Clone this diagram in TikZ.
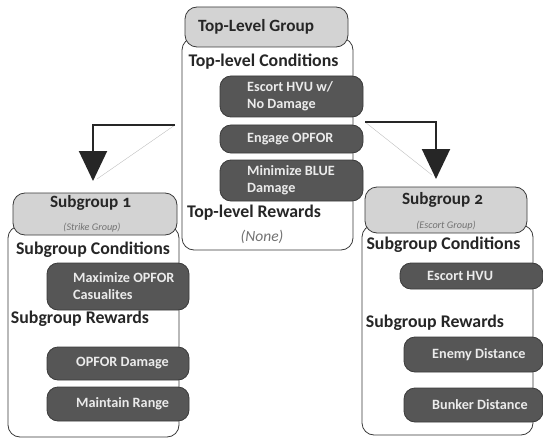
\documentclass[tikz,border=0pt]{standalone}
\usepackage{fontspec}
\setmainfont{Carlito}
\usetikzlibrary{arrows.meta}
\definecolor{darkfill}{HTML}{565656}
\definecolor{headfill}{HTML}{D3D3D3}
\definecolor{edge}{HTML}{3A3A3A}
\tikzset{
  mainbox/.style={draw=edge, fill=white, rounded corners=12pt, line width=0.8pt, inner sep=0pt},
  headbox/.style={draw=edge, fill=headfill, rounded corners=12pt, line width=0.8pt, inner sep=0pt},
  darkbox/.style={draw=edge, fill=darkfill, rounded corners=11pt, line width=0.8pt, inner sep=0pt},
  darktext/.style={anchor=west, text=white!92!black, align=left, inner sep=0pt, font=\bfseries\fontsize{14.2}{17}\selectfont},
  headtext/.style={inner sep=0pt, text=black!85, font=\bfseries\fontsize{17.2}{19}\selectfont},
  sectext/.style={inner sep=0pt, text=black!85, font=\bfseries\fontsize{17.8}{19}\selectfont},
  subtext/.style={inner sep=0pt, text=black!55, font=\itshape\fontsize{10.2}{12}\selectfont},
  nonetext/.style={inner sep=0pt, text=black!55, font=\itshape\fontsize{15.5}{17}\selectfont},
  bigarrow/.style={line width=2pt, draw=black!85, -{Triangle[length=30pt,width=28pt]}},
  faint/.style={draw=black!25, line width=0.4pt}
}
\newcommand{\osnum}{\addfontfeatures{Numbers=OldStyle}}
\begin{document}
\begin{tikzpicture}[x=1pt,y=-1pt]
\useasboundingbox (0,0) rectangle (543,441);
% ---------- Top-level group
\node[mainbox, minimum width=171pt, minimum height=212pt] (topmain) at (267.5,144) {};
\node[headbox, minimum width=163pt, minimum height=40pt] (tophead) at (266.5,27) {};
\node[headtext] (toptitle) at (256,27) {Top-Level Group};
\node[sectext] (topcond) at (263.5,62) {Top-level Conditions};
\node[darkbox, minimum width=143pt, minimum height=41pt] (c1) at (291.5,96.5) {};
\node[darktext] (c1t) at (247,96.5) {Escort HVU w/\\No Damage};
\node[darkbox, minimum width=143pt, minimum height=28pt] (c2) at (291.5,139) {};
\node[darktext] (c2t) at (247,139) {Engage OPFOR};
\node[darkbox, minimum width=143pt, minimum height=41pt] (c3) at (291.5,180.5) {};
\node[darktext] (c3t) at (247,180.5) {Minimize BLUE\\Damage};
\node[sectext] (toprew) at (254,213) {Top-level Rewards};
\node[nonetext] (none) at (262,237) {(None)};
% ---------- Subgroup 1
\node[mainbox, minimum width=171pt, minimum height=211pt] (s1main) at (93.5,331.5) {};
\node[headbox, minimum width=164pt, minimum height=42pt] (s1head) at (95,214) {};
\node[headtext] (s1title) at (90.5,203) {Subgroup {\osnum 1}};
\node[subtext] (s1sub) at (92,228) {(Strike Group)};
\node[sectext] (s1cond) at (93,250) {Subgroup Conditions};
\node[darkbox, minimum width=142pt, minimum height=47pt] (d1) at (118,286.5) {};
\node[darktext] (d1t) at (73,286.5) {Maximize OPFOR\\Casualites};
\node[sectext] (s1rew) at (80,319) {Subgroup Rewards};
\node[darkbox, minimum width=142pt, minimum height=33pt] (d2) at (118,363.5) {};
\node[darktext] (d2t) at (76,363.5) {OPFOR Damage};
\node[darkbox, minimum width=142pt, minimum height=34pt] (d3) at (118,404) {};
\node[darktext] (d3t) at (76,404) {Maintain Range};
% ---------- Subgroup 2
\node[mainbox, minimum width=171pt, minimum height=210pt] (s2main) at (447.5,330) {};
\node[headbox, minimum width=162pt, minimum height=46pt] (s2head) at (446,210) {};
\node[headtext] (s2title) at (442.5,200) {Subgroup {\osnum 2}};
\node[subtext] (s2sub) at (446,226) {(Escort Group)};
\node[sectext] (s2cond) at (443.5,245) {Subgroup Conditions};
\node[darkbox, minimum width=143pt, minimum height=26pt] (e1) at (471.5,276) {};
\node[darktext] (e1t) at (427,276) {Escort HVU};
\node[sectext] (s2rew) at (435,323) {Subgroup Rewards};
\node[darkbox, minimum width=139pt, minimum height=35pt] (e2) at (473.5,354.5) {};
\node[darktext] (e2t) at (432,354.5) {Enemy Distance};
\node[darkbox, minimum width=139pt, minimum height=34pt] (e3) at (473.5,405) {};
\node[darktext] (e3t) at (432,405) {Bunker Distance};
% ---------- Arrows
\coordinate (a1) at (175,125);
\coordinate (t1) at (93,181);
\coordinate (f1) at (97,179);
\coordinate (a2) at (365,122);
\coordinate (t2) at (436,179);
\coordinate (f2) at (432,175);
\draw[faint] (a1) -- (f1);
\draw[faint] (a2) -- (f2);
\draw[bigarrow] (a1) -| (t1);
\draw[bigarrow] (a2) -| (t2);
\end{tikzpicture}
\end{document}
